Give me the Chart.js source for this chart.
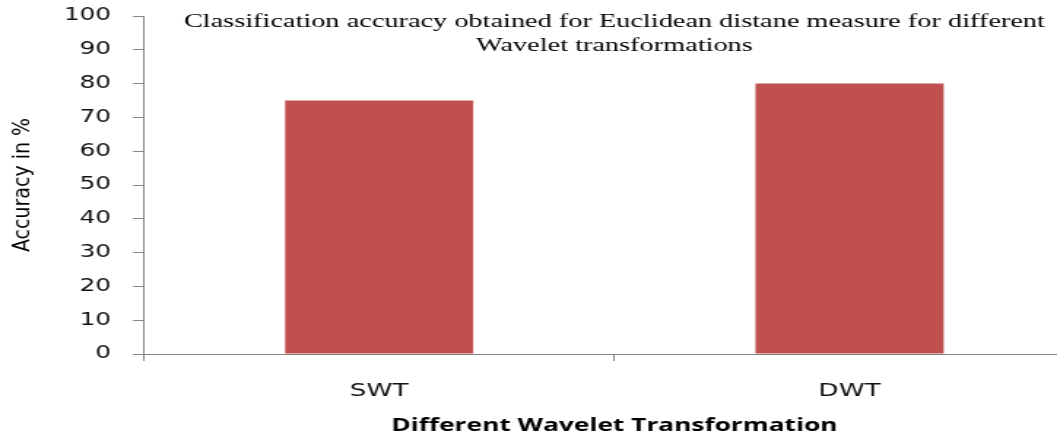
<!DOCTYPE html>
<html>
<head>
<meta charset="utf-8">
<script src="https://cdn.jsdelivr.net/npm/chart.js@4"></script>
<style>
  html, body { margin: 0; padding: 0; background: #fff; overflow: hidden; }
  /* the chart is drawn narrow and widened horizontally */
  .wrap { width: 743px; height: 448px; transform: scaleX(1.46); transform-origin: 0 0; }
</style>
</head>
<body>
<div class="wrap"><canvas id="accChart"></canvas></div>
<script>
const STRETCH = 1.46;

const categories = ['SWT', 'DWT'];
const accuracy = [75, 80];
const yTicks = [0, 10, 20, 30, 40, 50, 60, 70, 80, 90, 100];

const titleLines = [
  'Classification accuracy obtained for Euclidean distane measure for different',
  'Wavelet transformations'
];
const yTitle = 'Accuracy in %';
const xTitle = 'Different Wavelet Transformation';

const axisGray = '#868686';

// title inside the plot + rotated y title (less widened than the rest)
const textPlugin = {
  id: 'extraText',
  afterDraw(chart) {
    const ctx = chart.ctx;
    const area = chart.chartArea;
    const cx = (area.left + area.right) / 2;
    ctx.save();
    ctx.fillStyle = '#000';
    ctx.textAlign = 'center';
    ctx.textBaseline = 'middle';
    ctx.font = '19.4px "Liberation Serif", "Times New Roman", serif';
    ctx.fillText(titleLines[0], cx, 22);
    ctx.fillText(titleLines[1], cx, 46);
    ctx.restore();

    ctx.save();
    ctx.translate(15.5, (area.top + area.bottom) / 2);
    ctx.scale(1.2 / STRETCH, 1);
    ctx.rotate(-Math.PI / 2);
    ctx.fillStyle = '#000';
    ctx.textAlign = 'center';
    ctx.textBaseline = 'middle';
    ctx.font = '19px "DejaVu Sans", sans-serif';
    ctx.fillText(yTitle, 0, 0);
    ctx.restore();
  }
};

new Chart(document.getElementById('accChart'), {
  type: 'bar',
  data: {
    labels: categories,
    datasets: [{
      data: accuracy,
      backgroundColor: '#C0504D',
      borderWidth: 0,
      categoryPercentage: 1,
      barPercentage: 0.4
    }]
  },
  options: {
    responsive: true,
    maintainAspectRatio: false,
    animation: false,
    layout: { padding: { top: 16, right: 0, left: 0, bottom: 0 } },
    plugins: {
      legend: { display: false },
      tooltip: { enabled: false }
    },
    scales: {
      x: {
        grid: { drawOnChartArea: false, color: axisGray, tickLength: 7, offset: true },
        border: { color: axisGray, width: 1 },
        ticks: { color: '#111', font: { family: 'DejaVu Sans', size: 18 }, padding: 20 },
        title: {
          display: true,
          text: xTitle,
          color: '#000',
          font: { family: 'Open Sans', size: 18, weight: 'bold' },
          padding: { top: 0, bottom: 11 }
        },
        afterFit(scale) { scale.height = 94; }
      },
      y: {
        min: 0,
        max: 100,
        afterBuildTicks(scale) { scale.ticks = yTicks.map(v => ({ value: v })); },
        grid: { drawOnChartArea: false, color: axisGray, tickLength: 7.5 },
        border: { color: axisGray, width: 1 },
        ticks: { color: '#111', font: { family: 'DejaVu Sans', size: 17 }, padding: 15 },
        afterFit(scale) {
          scale.width = 98.6;
          // top edge set by layout padding only
          scale.paddingTop = 0;
          scale.paddingBottom = 0;
        }
      }
    }
  },
  plugins: [textPlugin]
});
</script>
</body>
</html>
